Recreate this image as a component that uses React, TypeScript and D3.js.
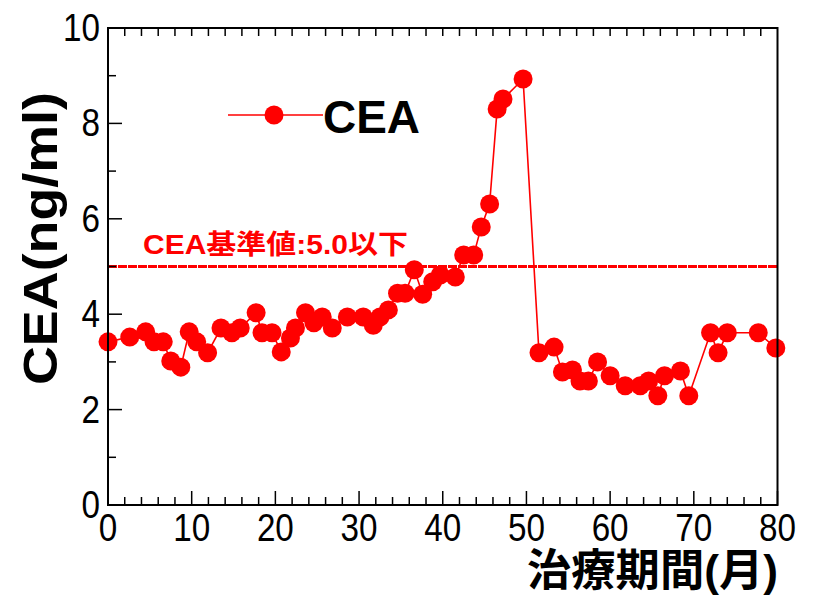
import React from "react";
import * as d3 from "d3";

const months = [0, 2.6, 4.5, 5.5, 6.6, 7.5, 8.7, 9.7, 10.6, 11.9, 13.5, 14.8, 15.8, 17.7, 18.4, 19.6, 20.7, 21.8, 22.4, 23.6, 24.6, 25.6, 26.8, 28.6, 30.5, 31.7, 32.5, 33.5, 34.6, 35.5, 36.6, 37.6, 38.8, 39.7, 41.5, 42.5, 43.7, 44.6, 45.6, 46.5, 47.2, 49.6, 51.5, 53.3, 54.3, 55.5, 56.4, 57.4, 58.5, 60.0, 61.8, 63.6, 64.6, 65.7, 66.5, 68.4, 69.4, 72.0, 72.9, 74.0, 77.7, 79.8];
const ceaValues = [3.42, 3.52, 3.63, 3.42, 3.42, 3.02, 2.89, 3.63, 3.42, 3.19, 3.71, 3.61, 3.71, 4.03, 3.61, 3.61, 3.21, 3.5, 3.71, 4.03, 3.82, 3.94, 3.71, 3.94, 3.94, 3.77, 3.94, 4.09, 4.44, 4.44, 4.93, 4.42, 4.68, 4.82, 4.78, 5.24, 5.24, 5.83, 6.31, 8.3, 8.51, 8.93, 3.19, 3.31, 2.79, 2.83, 2.6, 2.6, 3.0, 2.71, 2.5, 2.5, 2.6, 2.29, 2.71, 2.81, 2.29, 3.61, 3.19, 3.61, 3.61, 3.29];
const xTickLabels = ["0", "10", "20", "30", "40", "50", "60", "70", "80"];
const yTickLabels = ["0", "2", "4", "6", "8", "10"];
const referenceValue = 5.0;
const referenceLabel = "CEA基準値:5.0以下";
const seriesName = "CEA";
const xTitle = "治療期間(月)";
const yTitle = "CEA(ng/ml)";

const FONT = "'Liberation Sans', Arial, sans-serif";
const CJK = "'Liberation Sans', 'Noto Sans CJK JP', sans-serif";

export default function App() {
  const left = 108, right = 777.5, top = 28, bottom = 505;
  const x = d3.scaleLinear().domain([0, 80]).range([left, right]);
  const y = d3.scaleLinear().domain([0, 10]).range([bottom, top]);
  const data = months.map((m, i) => ({ m, v: ceaValues[i] }));
  const line = d3.line<{ m: number; v: number }>().x((d) => x(d.m)).y((d) => y(d.v));

  const xMinor = d3.range(2, 80, 2).filter((v) => v % 10 !== 0);
  const xMajor = xTickLabels.map(Number);
  const yMinor = d3.range(1, 10, 2);
  const yMajor = yTickLabels.map(Number);
  const topTicks = d3.range(2, 80, 2);

  return (
    <svg width={822} height={595} style={{ position: "absolute", left: 0, top: 0, background: "#fff" }}>
      {/* reference line */}
      <line x1={left} x2={right} y1={y(referenceValue)} y2={y(referenceValue)} stroke="#ff0000" strokeWidth={3} strokeDasharray="9 1" />
      <text x={143} y={254} fontFamily={CJK} fontWeight="bold" fontSize={27} fill="#ff0000" textLength={265} lengthAdjust="spacingAndGlyphs">{referenceLabel}</text>

      {/* data */}
      <path d={line(data) || ""} fill="none" stroke="#ff0000" strokeWidth={1.6} />
      {data.map((d, i) => (
        <circle key={i} cx={x(d.m)} cy={y(d.v)} r={9.5} fill="#ff0000" />
      ))}

      {/* frame */}
      <rect x={left} y={top} width={right - left} height={bottom - top} fill="none" stroke="#000" strokeWidth={2} />
      {xMinor.map((v) => (
        <line key={"xm" + v} x1={x(v)} x2={x(v)} y1={bottom} y2={bottom - 8} stroke="#000" strokeWidth={1.5} />
      ))}
      {xMajor.map((v) => (
        <line key={"xM" + v} x1={x(v)} x2={x(v)} y1={bottom} y2={bottom - 14} stroke="#000" strokeWidth={1.5} />
      ))}
      {topTicks.map((v) => (
        <line key={"t" + v} x1={x(v)} x2={x(v)} y1={top} y2={top + 8} stroke="#000" strokeWidth={1.5} />
      ))}
      {yMinor.map((v) => (
        <line key={"ym" + v} x1={left} x2={left + 8} y1={y(v)} y2={y(v)} stroke="#000" strokeWidth={1.5} />
      ))}
      {yMajor.map((v) => (
        <line key={"yM" + v} x1={left} x2={left + 14} y1={y(v)} y2={y(v)} stroke="#000" strokeWidth={1.5} />
      ))}

      {/* tick labels */}
      {xTickLabels.map((t) => (
        <text key={"xl" + t} x={x(Number(t))} y={541} textAnchor="middle" fontFamily={FONT} fontSize={39} fill="#000" textLength={18.5 * t.length} lengthAdjust="spacingAndGlyphs">{t}</text>
      ))}
      {yTickLabels.map((t) => (
        <text key={"yl" + t} x={100} y={y(Number(t)) + 13} textAnchor="end" fontFamily={FONT} fontSize={39} fill="#000" textLength={18.5 * t.length} lengthAdjust="spacingAndGlyphs">{t}</text>
      ))}

      {/* axis titles */}
      <text x={778} y={586} textAnchor="end" fontFamily={CJK} fontWeight="bold" fontSize={44} fill="#000" textLength={251} lengthAdjust="spacingAndGlyphs">{xTitle}</text>
      <text transform="translate(57,385) rotate(-90)" fontFamily={FONT} fontWeight="bold" fontSize={48} fill="#000" textLength={293} lengthAdjust="spacingAndGlyphs">{yTitle}</text>

      {/* legend */}
      <line x1={228} x2={323} y1={115} y2={115} stroke="#ff0000" strokeWidth={1.6} />
      <circle cx={274} cy={115} r={9.5} fill="#ff0000" />
      <text x={323} y={133} fontFamily={FONT} fontWeight="bold" fontSize={46} fill="#000" textLength={97} lengthAdjust="spacingAndGlyphs">{seriesName}</text>
    </svg>
  );
}
